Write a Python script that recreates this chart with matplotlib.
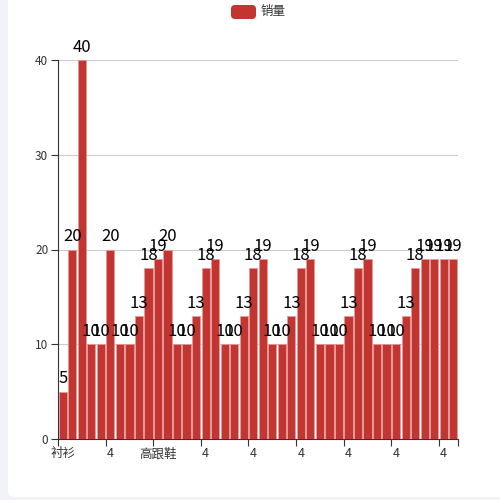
import matplotlib.pyplot as plt
from matplotlib.patches import FancyBboxPatch

plt.rcParams['font.family'] = ['Noto Sans CJK SC', 'DejaVu Sans']

seriesName = "销量"
# only every 5th category label is visible on the axis
categories = ["衬衫", "", "", "", "", "4", "", "", "", "", "高跟鞋", "", "", "", "", "4",
              "", "", "", "", "4", "", "", "", "", "4", "", "", "", "", "4",
              "", "", "", "", "4", "", "", "", "", "4", ""]
sales = [5, 20, 40, 10, 10, 20, 10, 10, 13, 18, 19, 20, 10, 10, 13, 18, 19,
         10, 10, 13, 18, 19, 10, 10, 13, 18, 19, 10, 10, 10, 13, 18, 19,
         10, 10, 10, 13, 18, 19, 19, 19, 19]
yTicks = [0, 10, 20, 30, 40]

W, H = 500, 500
fig = plt.figure(figsize=(5, 5), dpi=100, facecolor='#f2f3f8')
panel = FancyBboxPatch((8 / W, 3 / H), 1.2, 1.2, boxstyle="round,pad=0,rounding_size=0.012",
                       transform=fig.transFigure, facecolor='white', edgecolor='none', zorder=-10)
fig.patches.append(panel)

ax = fig.add_axes([58 / W, 1 - 439 / H, 400 / W, 379 / H])
ax.set_facecolor('none')

x = list(range(len(sales)))
bars = ax.bar(x, sales, width=0.86, color='#c23531', edgecolor='#e49a98', linewidth=0.6, zorder=3)
ax.bar_label(bars, padding=3, fontsize=12, color='black')

ax.set_xlim(-0.5, len(sales) - 0.5)
ax.set_ylim(0, 40)
ax.set_yticks(yTicks)
ax.tick_params(axis='y', length=5, width=0.8, color='#333333', labelsize=8.5, labelcolor='#333333', pad=2)
for t in yTicks[1:]:
    ax.axhline(t, color='#cccccc', linewidth=0.8, zorder=1)

# ticks at category boundaries, labels at category centers
shown = [i for i, c in enumerate(categories) if c]
ax.set_xticks([i - 0.5 for i in shown] + [len(sales) - 0.5])
ax.set_xticklabels([])
ax.set_xticks(shown, minor=True)
ax.set_xticklabels([categories[i] for i in shown], minor=True)
ax.tick_params(axis='x', which='major', length=5, width=0.8, color='#333333')
ax.tick_params(axis='x', which='minor', length=0, labelsize=9, labelcolor='#333333', pad=6)

for s in ['top', 'right']:
    ax.spines[s].set_visible(False)
for s in ['left', 'bottom']:
    ax.spines[s].set_color('#333333')
    ax.spines[s].set_linewidth(0.8)

# legend
legBox = FancyBboxPatch((231 / W, 1 - 19 / H), 25 / W, 14 / H, boxstyle="round,pad=0,rounding_size=0.008",
                        transform=fig.transFigure, facecolor='#c23531', edgecolor='none')
fig.patches.append(legBox)
fig.text(261 / W, 1 - 12 / H, seriesName, fontsize=9, color='#333333', va='center', ha='left')

fig.savefig('out.png', dpi=100, facecolor=fig.get_facecolor())
